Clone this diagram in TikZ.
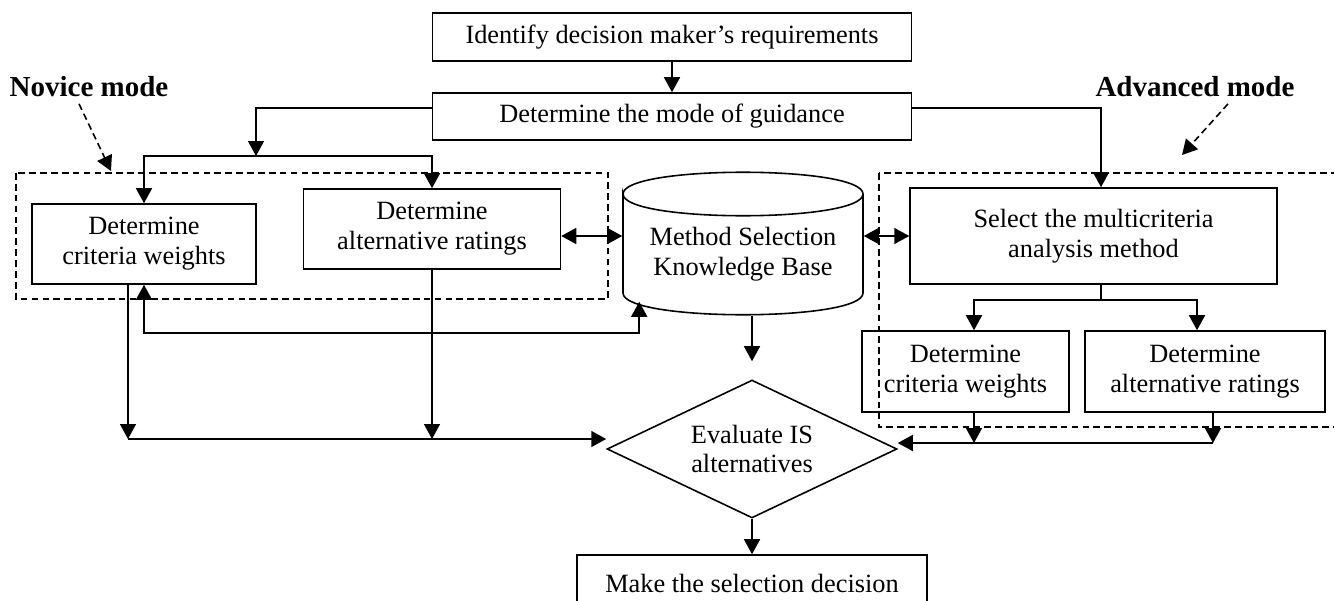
\documentclass[tikz,border=0pt]{standalone}
\usepackage{fontspec}
\setmainfont{Liberation Serif}
\usetikzlibrary{arrows.meta,shapes.geometric}

\begin{document}
\begin{tikzpicture}[x=0.02cm, y=-0.02cm, line width=0.9pt, every node/.style={font=\fontsize{15}{17}\selectfont}, >={Triangle[length=3mm,width=3.2mm]}, bx/.style={draw, align=center, inner sep=0pt}, grp/.style={dash pattern=on 3.8pt off 2.4pt}, lbl/.style={font=\fontsize{16.5}{19}\selectfont\bfseries}]
	\useasboundingbox (0,0) rectangle (1334,601);
	% main flow
	\node[bx, minimum width=9.58cm, minimum height=0.96cm] (req) at (672,37) {Identify decision maker's requirements};
	\node[bx, minimum width=9.58cm, minimum height=0.94cm] (guide) at (672,116.5) {Determine the mode of guidance};
	\node[bx, minimum width=4.48cm, minimum height=1.6cm] (ncw) at (144,244) {Determine\\criteria weights};
	\node[bx, minimum width=5.14cm, minimum height=1.6cm] (nar) at (432,229) {Determine\\alternative ratings};
	\node[align=center, inner sep=0pt, minimum width=4.8cm, minimum height=2.44cm] (kb) at (743,254) {Method Selection\\Knowledge Base};
	\node[bx, minimum width=7.34cm, minimum height=1.92cm] (msel) at (1093.5,236) {Select the multicriteria\\analysis method};
	\node[bx, minimum width=4.14cm, minimum height=1.62cm] (acw) at (965.5,371.5) {Determine\\criteria weights};
	\node[bx, minimum width=4.8cm, minimum height=1.62cm] (aar) at (1205,371.5) {Determine\\alternative ratings};
	\node[draw, diamond, aspect=2.09, inner sep=0pt, align=center, minimum width=5.8cm, minimum height=2.76cm] (eval) at (752,449) {Evaluate IS\\alternatives};
	\node[bx, minimum width=7cm, minimum height=1.12cm] (dec) at (752,583) {Make the selection decision};
	\node[lbl] (nov) at (89,87) {Novice mode};
	\node[lbl] (adv) at (1195,87) {Advanced mode};
	% knowledge base drum
	\draw (623,194) .. controls (623,165) and (863,165) .. (863,194) .. controls (863,223) and (623,223) .. (623,194) -- (623,293) .. controls (623,322) and (863,322) .. (863,293) -- (863,194);
	% mode groups
	\draw[grp] (16,173) rectangle (608,299);
	\draw[grp] (879,173) rectangle (1350,427);
	\coordinate (novtip) at (111,171);
	\coordinate (advtip) at (1182,155);
	\draw[grp, ->] ([xshift=-0.2cm]nov.south) -- (novtip);
	\draw[grp, ->] ([xshift=0.66cm]adv.south) -- (advtip);
	% connectors
	\draw[->] (req) -- (guide);
	\coordinate (nsplit) at (256,156);
	\draw[->] ([yshift=0.17cm]guide.west) -| (nsplit);
	\foreach \t in {ncw,nar} {\draw[->] (nsplit) -| (\t.north);}
	\draw[->] ([yshift=0.17cm]guide.east) -| ([xshift=0.15cm]msel.north);
	\draw[<->] ([yshift=-0.14cm]nar.east) -- ([yshift=-0.14cm]nar.east -| kb.west);
	\draw[<->] (msel.west -| kb.east) -- (msel.west);
	\draw[->, shorten >=0.36cm] (eval.north |- kb.south) -- (eval.north);
	\draw ([xshift=0.15cm]msel.south) -- ++(0,15) coordinate (asplit);
	\draw[->] (asplit) -| ([xshift=0.17cm]acw.north);
	\draw[->] (asplit) -| ([xshift=-0.16cm]aar.north);
	\coordinate (acwout) at ([xshift=0.17cm]acw.south);
	\coordinate (aarout) at ([xshift=0.16cm]aar.south);
	\coordinate (rw) at ([yshift=0.12cm]eval.east);
	\foreach \t in {acwout,aarout} {\draw[->] (\t) -- (\t |- rw);}
	\draw[->] (aarout |- rw) -- (rw);
	\coordinate (ncwout) at ([xshift=-0.32cm]ncw.south);
	\coordinate (lw) at ([yshift=0.2cm]eval.west);
	\foreach \t in {ncwout,nar.south} {\draw[->] (\t) -- (\t |- lw);}
	\draw[->] (ncwout |- lw) -- (lw);
	\coordinate (kbfoot) at ([xshift=0.34cm,yshift=0.28cm]kb.south west);
	\draw[<->] (ncw.south) -- ++(0,48) -| (kbfoot);
	\draw[->] (eval.south) -- (dec.north);
\end{tikzpicture}
\end{document}
